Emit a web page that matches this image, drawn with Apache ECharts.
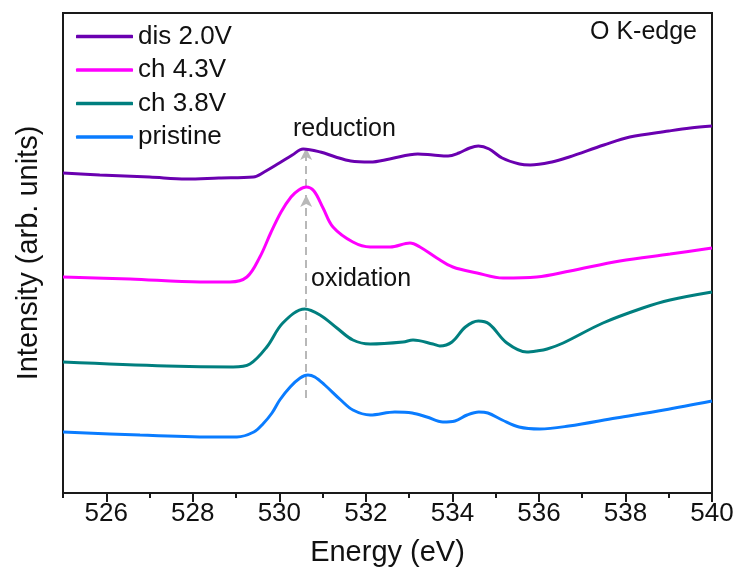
<!DOCTYPE html>
<html>
<head>
<meta charset="utf-8">
<script src="https://cdn.jsdelivr.net/npm/echarts@6/dist/echarts.min.js"></script>
<style>html,body{margin:0;padding:0;background:#fff}#c{width:742px;height:578px}</style>
</head>
<body>
<div id="c"></div>
<script>
// Energy (eV) / intensity (arb. units, offset traces)
const disE = [525.0,525.85,527.0,527.85,528.6,529.4,529.65,530.0,530.3,530.55,530.95,531.3,531.65,532.1,532.55,533.2,533.55,533.9,534.15,534.4,534.6,534.85,535.15,535.55,535.8,536.3,536.7,537.5,538.1,539.0,539.5,540.0];
const disI = [320,318,316,314,315,316,321,330,338,344,341,336,332,331,334,339,338,337,340,345,347,344,335,329,328,331,336,348,356,362,365,367];

const ch43E = [525.0,526.55,528.17,528.86,529.25,529.55,529.8,530.04,530.27,530.45,530.62,530.8,531.01,531.24,531.7,532.1,532.56,533.02,533.25,533.64,534.01,534.57,535.17,535.95,536.72,537.87,539.03,540.0];
const ch43I = [216,214,211,211,216,236,260,281,296,303,306,302,285,266,251,246,246,250,246,235,226,220,215,216,222,232,239,245];

const ch38E = [525.0,527.4,528.93,529.32,529.71,530.08,530.59,530.94,531.33,531.7,532.1,532.86,533.09,533.55,533.71,533.99,534.3,534.6,534.85,535.26,535.72,535.95,536.19,536.56,537.48,538.4,539.03,540.0];
const ch38I = [131,127,126,129,146,170,184,178,165,153,149,151,153,149,147,151,166,172,169,150,141,142,144,150,170,185,193,201];

const priE = [525.0,526.78,528.58,529.02,529.41,529.62,529.83,530.01,530.25,530.48,530.66,530.82,531.05,531.42,531.7,532.1,532.67,533.07,533.41,533.78,534.06,534.34,534.61,534.82,535.15,535.54,536.02,536.69,537.78,538.89,540.0];
const priI = [61,58,56,56,61,69,80,93,106,115,118,116,108,93,83,78,81,80,76,71,72,78,81,80,73,66,64,67,75,83,92];

const seriesNames = ['dis 2.0V','ch 4.3V','ch 3.8V','pristine'];
const seriesColors = ['#6a00b0','#ff00ff','#007f7f','#0a7cff'];
const majorTicks = [526,528,530,532,534,536,538,540];
const minorTicks = [525,527,529,531,533,535,537,539];
const arrowE = 530.62;
const arrowLow = [95, 298];
const arrowHigh = [306, 345];

const zip = (a,b) => a.map((v,i)=>[v,b[i]]);
const allData = [zip(disE,disI), zip(ch43E,ch43I), zip(ch38E,ch38I), zip(priE,priI)];

const chart = echarts.init(document.getElementById('c'), null, {renderer:'canvas'});
const FONT = 'Liberation Sans, Arial, sans-serif';

const series = allData.map((d,i)=>({
  name: seriesNames[i],
  type: 'line',
  data: d,
  symbol: 'none',
  smooth: 0.35,
  lineStyle: {color: seriesColors[i], width: 3},
  itemStyle: {color: seriesColors[i]},
  z: 3
}));

series.push({
  type: 'line',
  data: [],
  silent: true,
  markLine: {
    silent: true,
    symbol: ['none','arrow'],
    symbolSize: [9, 12],
    label: {show: false},
    lineStyle: {color: '#b8b8b8', type: [8,5], width: 2},
    z: 2,
    data: [
      [{coord:[arrowE, arrowLow[0]]}, {coord:[arrowE, arrowLow[1]]}],
      [{coord:[arrowE, arrowHigh[0]]}, {coord:[arrowE, arrowHigh[1]]}]
    ]
  }
});

chart.setOption({
  animation: false,
  backgroundColor: '#fff',
  grid: {left: 63, right: 30, top: 13, bottom: 85, show: true, borderColor: '#1a1a1a', borderWidth: 2, backgroundColor: 'transparent'},
  legend: {
    data: seriesNames.map((n,i)=>({name: n, icon: 'roundRect', itemStyle: {color: seriesColors[i]}})),
    orient: 'vertical',
    left: 76, top: 23,
    itemWidth: 57, itemHeight: 3.5, itemGap: 6.5,
    textStyle: {fontFamily: FONT, fontSize: 26, color: '#111', lineHeight: 27, padding: [0,0,0,0]},
    padding: 0
  },
  xAxis: [{
    type: 'value', min: 525, max: 540, interval: 1,
    name: 'Energy (eV)', nameLocation: 'middle', nameGap: 45,
    nameTextStyle: {fontFamily: FONT, fontSize: 29, color: '#111'},
    axisLine: {show: true, lineStyle: {color: '#1a1a1a', width: 2}},
    axisTick: {show: true, customValues: majorTicks, length: 9, lineStyle: {color: '#1a1a1a', width: 2}},
    axisLabel: {customValues: majorTicks, fontFamily: FONT, fontSize: 26, color: '#111', margin: 8},
    splitLine: {show: false}
  },{
    type: 'value', min: 525, max: 540, interval: 1, position: 'bottom',
    axisLine: {show: false},
    axisTick: {show: true, customValues: minorTicks, length: 5, lineStyle: {color: '#1a1a1a', width: 2}},
    axisLabel: {show: false},
    splitLine: {show: false}
  }],
  yAxis: {
    type: 'value', min: 0, max: 480,
    name: 'Intensity (arb. units)', nameLocation: 'middle', nameGap: 20,
    nameTextStyle: {fontFamily: FONT, fontSize: 29, color: '#111'},
    axisLine: {show: true, lineStyle: {color: '#1a1a1a', width: 2}},
    axisTick: {show: false}, axisLabel: {show: false}, splitLine: {show: false}
  },
  graphic: [
    {type: 'text', right: 45, top: 20, style: {text: 'O K-edge', font: '25px ' + FONT, fill: '#111'}},
    {type: 'text', left: 293, top: 117, style: {text: 'reduction', font: '25px ' + FONT, fill: '#111'}},
    {type: 'text', left: 311, top: 267, style: {text: 'oxidation', font: '25px ' + FONT, fill: '#111'}}
  ],
  series: series
});
</script>
</body>
</html>
